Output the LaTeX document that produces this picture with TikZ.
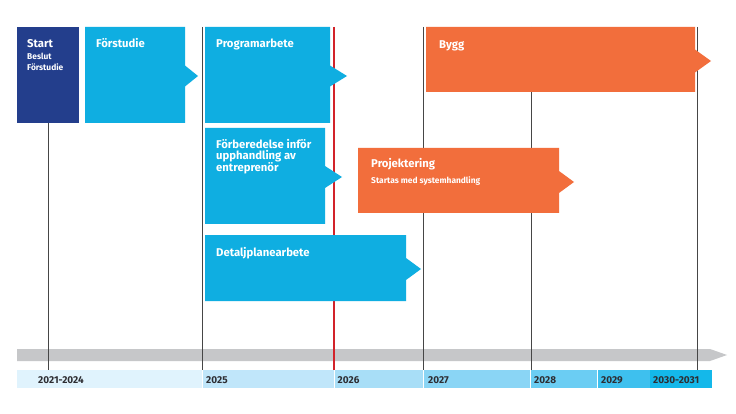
\documentclass[tikz,border=0pt]{standalone}
\usepackage{fontspec}
\setmainfont{Fira Sans}
\definecolor{navy}{RGB}{35,62,140}
\definecolor{cyanbox}{RGB}{15,174,225}
\definecolor{orangebox}{RGB}{242,110,60}
\definecolor{redline}{RGB}{210,35,42}
\definecolor{bargrey}{RGB}{198,199,201}
\definecolor{linegrey}{RGB}{70,70,70}
\definecolor{yeartext}{RGB}{45,45,50}
\definecolor{sa}{RGB}{224,243,253}
\definecolor{sb}{RGB}{192,230,250}
\definecolor{sc}{RGB}{168,222,247}
\definecolor{sd}{RGB}{138,213,245}
\definecolor{se}{RGB}{107,205,243}
\definecolor{sf}{RGB}{62,192,238}
\definecolor{sg}{RGB}{20,184,234}
% arrow box: colour, x1, y1, x2, y2, tip x, tip y, half height of notch
\newcommand\phasebox[8]{%
  \fill[#1] (#2,#3) -- (#4,#3) -- (#4,#7-#8) -- (#6,#7) -- (#4,#7+#8) -- (#4,#5) -- (#2,#5) -- cycle;}
\begin{document}
\begin{tikzpicture}[x=1pt,y=-1pt,
  ttl/.style={anchor=base west,inner sep=0pt,text=white,font=\bfseries\fontsize{11.3}{13}\selectfont},
  sub/.style={anchor=base west,inner sep=0pt,text=white,font=\bfseries\fontsize{8.4}{10}\selectfont},
  yr/.style={anchor=base west,inner sep=0pt,text=yeartext,font=\bfseries\fontsize{10}{12}\selectfont},
  vline/.style={draw=linegrey,line width=0.9pt},
  rline/.style={draw=redline,line width=1.6pt},
]
\useasboundingbox[fill=white] (0,0) rectangle (736,414);

% grey time bar
\fill[bargrey] (17,349) -- (710,349) -- (727,355) -- (710,361) -- (17,361) -- cycle;

% year segments
\fill[sa] (17,370) rectangle (201.5,388);
\fill[sb] (202.5,370) rectangle (334,388);
\fill[sc] (335,370) rectangle (423,388);
\fill[sd] (424,370) rectangle (529.5,388);
\fill[se] (530.5,370) rectangle (597,388);
\fill[sf] (598,370) rectangle (650,388);
\fill[sg] (650,370) rectangle (712,388);

% vertical lines
\coordinate (l1t) at (48,123);  \coordinate (l1b) at (48,370);
\coordinate (l2t) at (202,27);  \coordinate (l2b) at (202,370);
\coordinate (l3t) at (423,27);  \coordinate (l3b) at (423,370);
\coordinate (l4t) at (531,27);  \coordinate (l4b) at (531,370);
\coordinate (l5t) at (697,27);  \coordinate (l5b) at (697,370);
\coordinate (rt) at (334,27);   \coordinate (rb) at (334,370);
\draw[vline] (l1t) -- (l1b);
\draw[vline] (l2t) -- (l2b);
\draw[vline] (l3t) -- (l3b);
\draw[vline] (l4t) -- (l4b);
\draw[vline] (l5t) -- (l5b);
\draw[rline] (rt) -- (rb);

% boxes
\fill[navy] (17,27) rectangle (79,123);
\phasebox{cyanbox}{85}{27}{185}{123}{198}{76}{10.5}
\phasebox{cyanbox}{205}{27}{330}{123}{347}{76}{10.5}
\phasebox{cyanbox}{205}{128}{325}{224}{342}{177}{11}
\phasebox{cyanbox}{205}{235}{406}{301}{421}{269}{11}
\phasebox{orangebox}{426}{27}{695}{92}{711}{61}{11.5}
\phasebox{orangebox}{358}{148}{559}{213}{574}{182}{11}

% texts
\node[ttl] (start) at (27,48) {Start};
\node[sub] (beslut) at (27,59.5) {Beslut};
\node[sub] (forst) at (27,71) {Förstudie};
\node[ttl] (forstudie) at (96,48) {Förstudie};
\node[ttl] (program) at (216,48) {Programarbete};
\node[ttl] (fb1) at (216,148.5) {Förberedelse inför};
\node[ttl] (fb2) at (216,160) {upphandling av};
\node[ttl] (fb3) at (216,171.5) {entreprenör};
\node[ttl] (detalj) at (216,256) {Detaljplanearbete};
\node[ttl] (bygg) at (439,49) {Bygg};
\node[ttl] (proj) at (371,168) {Projektering};
\node[sub] (projsub) at (371,184) {Startas med systemhandling};

% year labels
\node[yr] (y1) at (38,383) {2021-2024};
\node[yr] (y2) at (206,383) {2025};
\node[yr] (y3) at (337.5,383) {2026};
\node[yr] (y4) at (428,383) {2027};
\node[yr] (y5) at (534,383) {2028};
\node[yr] (y6) at (601,383) {2029};
\node[yr] (y7) at (653,383) {2030-2031};
\end{tikzpicture}
\end{document}
